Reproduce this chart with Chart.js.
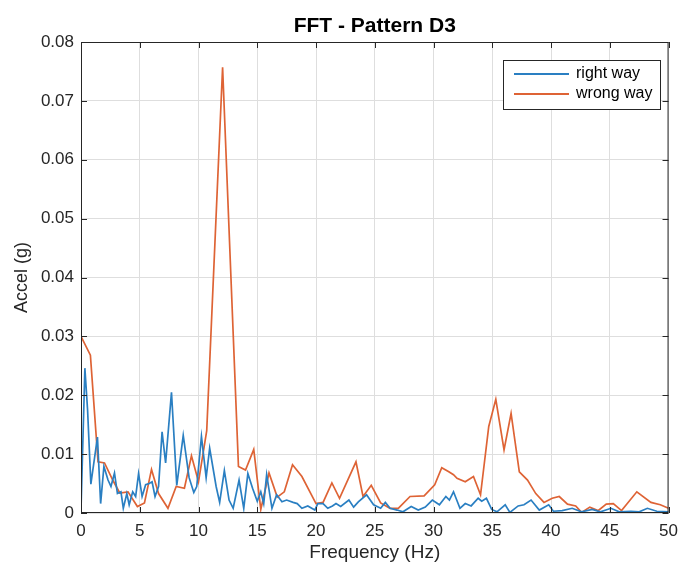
<!DOCTYPE html>
<html>
<head>
<meta charset="utf-8">
<script src="https://cdn.jsdelivr.net/npm/chart.js@4/dist/chart.umd.min.js"></script>
<style>
  html, body { margin: 0; padding: 0; background: #fff; }
  #wrap { width: 686px; height: 567px; }
</style>
</head>
<body>
<div id="wrap"><canvas id="fftChart" width="686" height="567"></canvas></div>
<script>
// espectro "right way" (Hz, g)
const freqRight = [0, 0.33, 0.56, 0.84, 1.4, 1.67, 1.95, 2.3, 2.55, 2.85, 3.1, 3.4, 3.6, 3.9, 4.1, 4.4, 4.65, 4.9, 5.2, 5.5, 5.8, 6.05, 6.3, 6.6, 6.9, 7.2, 7.7, 8.15, 8.7, 9.2, 9.6, 9.85, 10.25, 10.65, 10.95, 11.5, 11.8, 12.2, 12.6, 12.95, 13.45, 13.85, 14.2, 14.6, 15.0, 15.3, 15.55, 15.8, 16.25, 16.65, 17.1, 17.5, 18.05, 18.4, 18.8, 19.3, 19.9, 20.15, 20.6, 21.0, 21.4, 21.7, 22.1, 22.8, 23.2, 23.6, 24.3, 24.9, 25.5, 25.9, 26.3, 26.9, 27.4, 28.1, 28.7, 29.3, 29.9, 30.5, 31.05, 31.35, 31.7, 32.25, 32.7, 33.2, 33.8, 34.1, 34.5, 34.95, 35.4, 36.1, 36.5, 37.2, 37.7, 38.3, 39.0, 39.8, 40.2, 40.95, 41.8, 42.6, 43.5, 44.2, 45.1, 45.8, 46.8, 47.5, 48.2, 49.0, 50];
const accelRight = [0.0005, 0.0246, 0.0175, 0.0049, 0.0129, 0.0016, 0.0079, 0.0056, 0.0045, 0.0068, 0.0033, 0.0036, 0.0008, 0.0033, 0.0014, 0.0036, 0.0028, 0.0067, 0.0028, 0.0048, 0.005, 0.0053, 0.0028, 0.0045, 0.0138, 0.0085, 0.0205, 0.0047, 0.0132, 0.006, 0.0035, 0.0045, 0.013, 0.006, 0.011, 0.0045, 0.0018, 0.0072, 0.0022, 0.0008, 0.0056, 0.0008, 0.0067, 0.0042, 0.002, 0.0036, 0.0016, 0.0065, 0.0008, 0.0031, 0.0019, 0.0022, 0.0018, 0.0016, 0.0008, 0.0012, 0.0005, 0.0016, 0.0016, 0.0008, 0.0012, 0.0016, 0.0011, 0.0022, 0.001, 0.0019, 0.0031, 0.0014, 0.0008, 0.0018, 0.0008, 0.0005, 0.0002, 0.0011, 0.0005, 0.001, 0.0022, 0.0014, 0.0028, 0.0022, 0.0036, 0.0008, 0.0016, 0.0012, 0.0025, 0.002, 0.0025, 0.0006, 0.0002, 0.0014, 0.0001, 0.0012, 0.0014, 0.0022, 0.0005, 0.0014, 0.0003, 0.0004, 0.0008, 0.0002, 0.0006, 0.0002, 0.0008, 0.0002, 0.0003, 0.0002, 0.0008, 0.0003, 0.0002];

// espectro "wrong way" (Hz, g)
const freqWrong = [0, 0.8, 1.45, 2.0, 2.7, 3.3, 4.0, 4.8, 5.4, 6.0, 6.6, 7.4, 8.1, 8.8, 9.4, 10.0, 10.7, 12.05, 13.4, 14.0, 14.7, 15.3, 16.0, 16.7, 17.3, 18.0, 18.8, 20.0, 20.6, 21.35, 22.0, 23.4, 24.0, 24.7, 25.5, 26.3, 27.0, 28.0, 29.2, 30.1, 30.7, 31.3, 31.7, 32.0, 32.7, 33.4, 34.0, 34.7, 35.3, 36.0, 36.6, 37.3, 38.0, 38.7, 39.4, 40.1, 40.7, 41.4, 42.1, 42.6, 43.3, 44.0, 44.7, 45.3, 46.0, 47.3, 48.5, 49.3, 50];
const accelWrong = [0.030, 0.0268, 0.0087, 0.0085, 0.0056, 0.0034, 0.0036, 0.0011, 0.0017, 0.0074, 0.0033, 0.0008, 0.0045, 0.0042, 0.0097, 0.0053, 0.014, 0.0757, 0.0079, 0.0073, 0.0108, 0.0006, 0.0068, 0.0027, 0.0036, 0.0082, 0.0062, 0.0016, 0.0018, 0.0051, 0.0025, 0.0087, 0.0028, 0.0047, 0.0017, 0.0008, 0.0008, 0.0028, 0.0029, 0.0048, 0.0077, 0.007, 0.0065, 0.0059, 0.0053, 0.0062, 0.0031, 0.0147, 0.0193, 0.0107, 0.0169, 0.007, 0.0056, 0.0033, 0.0018, 0.0025, 0.0028, 0.0015, 0.0012, 0.0001, 0.001, 0.0004, 0.0015, 0.0016, 0.0004, 0.0036, 0.0018, 0.0014, 0.0008];

const xTicks = [0, 5, 10, 15, 20, 25, 30, 35, 40, 45, 50];
const yTicks = [0, 0.01, 0.02, 0.03, 0.04, 0.05, 0.06, 0.07, 0.08];
const seriesNames = ["right way", "wrong way"];
const chartTitle = "FFT - Pattern D3";

const FONT = "'Liberation Sans', Arial, Helvetica, sans-serif";
const AXIS_COLOR = "#262626";
const GRID_COLOR = "#dedede";
const BLUE = "#2a7fc2";
const ORANGE = "#de6335";

const toPoints = (xs, ys) => xs.map((x, i) => ({ x: x, y: ys[i] }));

// título centrado sobre el área, caja del eje con marcas hacia dentro y leyenda
const matlabBox = {
    id: "matlabBox",
    afterDraw(chart) {
        const { ctx, chartArea: a, scales } = chart;
        const tl = 6;
        ctx.save();

        ctx.fillStyle = "#000";
        ctx.font = "bold 21px " + FONT;
        ctx.textAlign = "center";
        ctx.textBaseline = "middle";
        ctx.fillText(chartTitle, (a.left + a.right) / 2, 26);

        ctx.strokeStyle = AXIS_COLOR;
        ctx.lineWidth = 1;
        ctx.strokeRect(a.left + 0.5, a.top + 0.5, a.right - a.left - 1, a.bottom - a.top - 1);
        ctx.beginPath();
        xTicks.forEach(v => {
            const px = Math.round(scales.x.getPixelForValue(v)) + 0.5;
            ctx.moveTo(px, a.bottom); ctx.lineTo(px, a.bottom - tl);
            ctx.moveTo(px, a.top); ctx.lineTo(px, a.top + tl);
        });
        yTicks.forEach(v => {
            const py = Math.round(scales.y.getPixelForValue(v)) + 0.5;
            ctx.moveTo(a.left, py); ctx.lineTo(a.left + tl, py);
            ctx.moveTo(a.right, py); ctx.lineTo(a.right - tl, py);
        });
        ctx.stroke();

        // leyenda arriba a la derecha
        const lx = 503, ly = 60, lw = 157, lh = 49;
        ctx.fillStyle = "#fff";
        ctx.fillRect(lx, ly, lw, lh);
        ctx.strokeStyle = AXIS_COLOR;
        ctx.strokeRect(lx + 0.5, ly + 0.5, lw, lh);
        ctx.font = "16px " + FONT;
        ctx.textAlign = "left";
        chart.data.datasets.forEach((ds, i) => {
            const y = ly + 14 + i * 20;
            ctx.strokeStyle = ds.borderColor;
            ctx.lineWidth = 1.8;
            ctx.beginPath();
            ctx.moveTo(lx + 11, y); ctx.lineTo(lx + 66, y);
            ctx.stroke();
            ctx.fillStyle = "#000";
            ctx.fillText(ds.label, lx + 73, y);
        });
        ctx.restore();
    }
};

new Chart(document.getElementById("fftChart"), {
    type: "scatter",
    data: {
        datasets: [
            { label: seriesNames[0], data: toPoints(freqRight, accelRight), borderColor: BLUE, backgroundColor: BLUE },
            { label: seriesNames[1], data: toPoints(freqWrong, accelWrong), borderColor: ORANGE, backgroundColor: ORANGE }
        ]
    },
    options: {
        responsive: false,
        animation: false,
        showLine: true,
        elements: {
            point: { radius: 0, hoverRadius: 0 },
            line: { borderWidth: 1.7, tension: 0 }
        },
        layout: { padding: { left: 0, right: 8, top: 42, bottom: 0 } },
        plugins: {
            legend: { display: false },
            tooltip: { enabled: false },
            title: { display: false }
        },
        scales: {
            x: {
                type: "linear",
                min: 0, max: 50,
                afterFit: s => { s.height = 54; },
                afterBuildTicks: s => { s.ticks = xTicks.map(v => ({ value: v })); },
                ticks: { color: AXIS_COLOR, font: { family: FONT, size: 17 }, padding: 8, maxRotation: 0 },
                grid: { color: GRID_COLOR, drawTicks: false },
                border: { display: false },
                title: { display: true, text: "Frequency (Hz)", color: AXIS_COLOR, font: { family: FONT, size: 19 }, padding: { top: 0, bottom: 3 } }
            },
            y: {
                type: "linear",
                min: 0, max: 0.08,
                afterFit: s => { s.width = 81; },
                afterBuildTicks: s => { s.ticks = yTicks.map(v => ({ value: v })); },
                ticks: {
                    color: AXIS_COLOR, font: { family: FONT, size: 17 }, padding: 7,
                    callback: v => v === 0 ? "0" : v.toFixed(2)
                },
                grid: { color: GRID_COLOR, drawTicks: false },
                border: { display: false },
                title: { display: true, text: "Accel (g)", color: AXIS_COLOR, font: { family: FONT, size: 18 }, padding: { top: 11, bottom: 0 } }
            }
        }
    },
    plugins: [matlabBox]
});
</script>
</body>
</html>
